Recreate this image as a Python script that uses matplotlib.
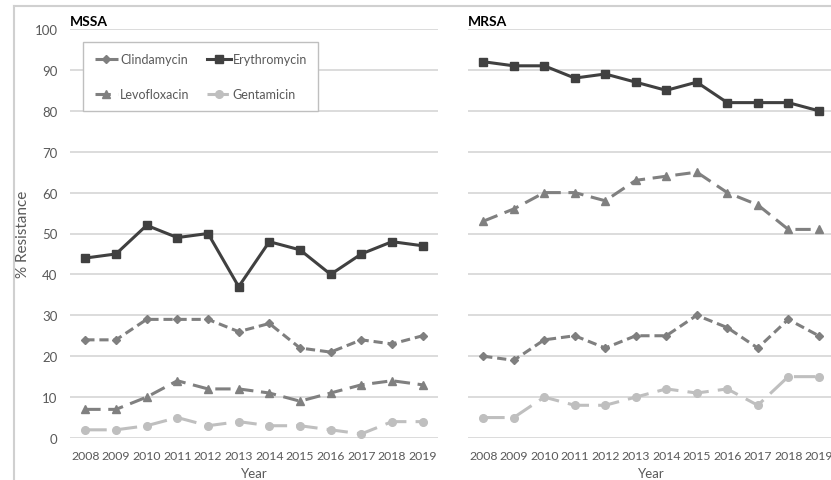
import matplotlib
matplotlib.use("Agg")
import matplotlib.pyplot as plt
from matplotlib.lines import Line2D

plt.rcParams["font.family"] = ["Lato", "DejaVu Sans"]

YEARS = [str(y) for y in range(2008, 2020)]

MSSA_CLINDA = [24, 24, 29, 29, 29, 26, 28, 22, 21, 24, 23, 25]
MSSA_ERY = [44, 45, 52, 49, 50, 37, 48, 46, 40, 45, 48, 47]
MSSA_LEVO = [7, 7, 10, 14, 12, 12, 11, 9, 11, 13, 14, 13]
MSSA_GENTA = [2, 2, 3, 5, 3, 4, 3, 3, 2, 1, 4, 4]

MRSA_CLINDA = [20, 19, 24, 25, 22, 25, 25, 30, 27, 22, 29, 25]
MRSA_ERY = [92, 91, 91, 88, 89, 87, 85, 87, 82, 82, 82, 80]
MRSA_LEVO = [53, 56, 60, 60, 58, 63, 64, 65, 60, 57, 51, 51]
MRSA_GENTA = [5, 5, 10, 8, 8, 10, 12, 11, 12, 8, 15, 15]

TXT = "#595959"
STYLES = {
    "Clindamycin": dict(color="#7f7f7f", ls=(0, (3, 1.6)), marker="D", ms=4.5, lw=2.2),
    "Erythromycin": dict(color="#404040", ls="-", marker="s", ms=6, lw=2.2),
    "Levofloxacin": dict(color="#808080", ls=(0, (5, 2.5)), marker="^", ms=5.5, lw=2.2),
    "Gentamicin": dict(color="#bfbfbf", ls=(0, (7, 3)), marker="o", ms=5.5, lw=2.2),
}
# plotting order = legend order read column by column (2 columns)
ORDER = ["Clindamycin", "Levofloxacin", "Erythromycin", "Gentamicin"]


def panel(ax, title, data, show_y):
    x = list(range(len(YEARS)))
    for name in ORDER:
        ax.plot(x, data[name], label=name, **STYLES[name])
    ax.set_xlim(-0.5, 11.5)
    ax.set_ylim(0, 100)
    ax.set_yticks(range(0, 101, 10))
    ax.set_xticks(x)
    ax.set_xticklabels(YEARS)
    ax.grid(axis="y", color="#d9d9d9", lw=1.3)
    ax.set_axisbelow(True)
    for s in ax.spines.values():
        s.set_visible(False)
    ax.tick_params(length=0, colors=TXT, labelsize=9.5)
    ax.tick_params(axis="x", pad=9, labelsize=8.8)
    ax.tick_params(axis="y", pad=9)
    if not show_y:
        ax.set_yticklabels([])
    ax.set_xlabel("Year", color=TXT, fontsize=9.5, labelpad=4)
    ax.text(0.0, 1.005, title, transform=ax.transAxes, fontsize=10,
            fontweight="bold", color="black", va="bottom", ha="left")


fig = plt.figure(figsize=(8.31, 4.81), dpi=100)
W, H = 831, 481
ax1 = fig.add_axes([70 / W, 1 - 439 / H, 368 / W, 409 / H])
ax2 = fig.add_axes([468 / W, 1 - 439 / H, 366 / W, 409 / H])

panel(ax1, "MSSA", {"Clindamycin": MSSA_CLINDA, "Erythromycin": MSSA_ERY,
                    "Levofloxacin": MSSA_LEVO, "Gentamicin": MSSA_GENTA}, True)
panel(ax2, "MRSA", {"Clindamycin": MRSA_CLINDA, "Erythromycin": MRSA_ERY,
                    "Levofloxacin": MRSA_LEVO, "Gentamicin": MRSA_GENTA}, False)
ax1.set_ylabel("% Resistance", color=TXT, fontsize=11, labelpad=3)

leg = ax1.legend(loc="upper left", bbox_to_anchor=(7 / 368, 0.983), ncol=2,
                 fontsize=9, handlelength=1.9, handletextpad=0.15,
                 columnspacing=1.4, labelspacing=1.8, borderpad=0.9,
                 fancybox=False, framealpha=1, edgecolor="#bfbfbf",
                 labelcolor=TXT)
leg.get_frame().set_linewidth(1.0)

# light frame around the chart area
fig.add_artist(Line2D([14 / W, 14 / W], [0, 1 - 7 / H], color="#d0d0d0", lw=1.5))
fig.add_artist(Line2D([14 / W, 1], [1 - 7 / H, 1 - 7 / H], color="#d0d0d0", lw=1.5))

fig.savefig("out.png", dpi=100)
